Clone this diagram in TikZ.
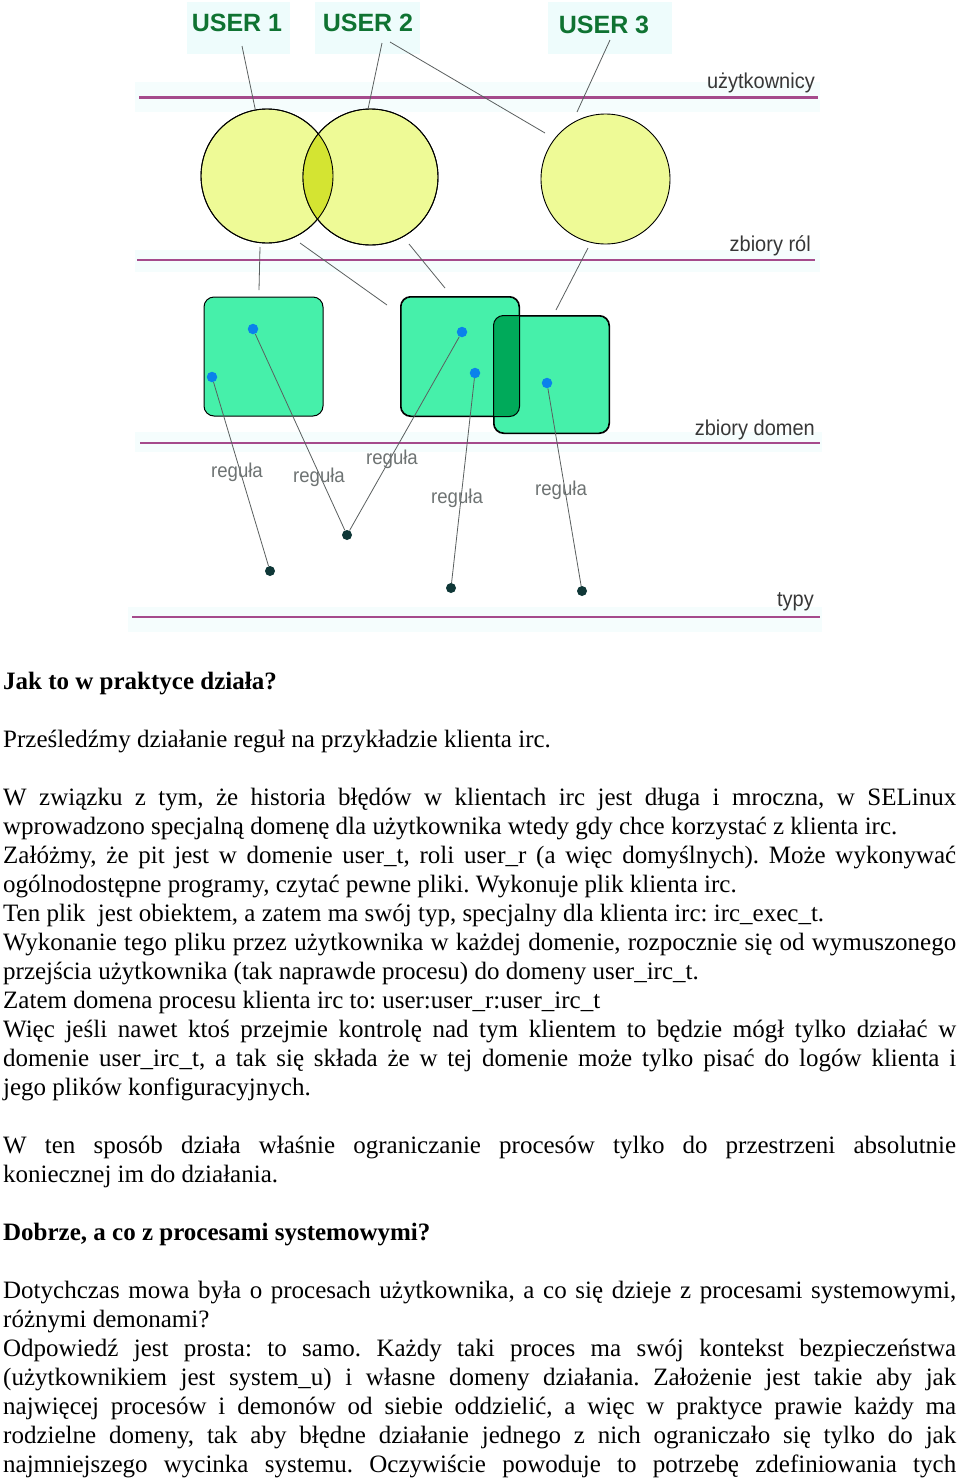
\documentclass[tikz,border=0pt]{standalone}
\usepackage{fontspec}
\setmainfont{Liberation Serif}
\newfontfamily\lblfont{Liberation Sans}
\newfontfamily\lblnarrow{Liberation Sans}[FakeStretch=0.93]
\usetikzlibrary{shapes.geometric}
\frenchspacing
\definecolor{hline}{RGB}{165,75,140}
\definecolor{circfill}{RGB}{238,250,150}
\definecolor{lensfill}{RGB}{212,228,50}
\definecolor{sqfill}{RGB}{70,240,170}
\definecolor{sqdark}{RGB}{0,170,90}
\definecolor{bdot}{RGB}{10,130,235}
\definecolor{kdot}{RGB}{15,55,55}
\definecolor{connc}{RGB}{90,95,95}
\definecolor{usergreen}{RGB}{15,115,50}
\definecolor{halo}{RGB}{238,252,252}
\definecolor{band}{RGB}{245,253,253}
\definecolor{lblgray}{RGB}{55,55,55}
\definecolor{rulegray}{RGB}{110,115,115}
\newcommand\myuserfont{\lblfont\bfseries\fontsize{25}{25}\selectfont}
\newcommand\mybodyfont{\fontsize{25}{29}\selectfont}
\newcommand\jline[1]{\makebox[953pt][s]{#1}}
\tikzset{
 hl/.style={draw=hline, line width=2.4pt},
 roleset/.style={ellipse, draw=black, line width=0.9pt, fill=circfill, inner sep=0pt},
 domset/.style={rectangle, rounded corners=10pt, draw=black, line width=1pt, fill=sqfill, inner sep=0pt},
 bdotst/.style={circle, fill=bdot, minimum size=10.5pt, inner sep=0pt},
 kdotst/.style={circle, fill=kdot, minimum size=10pt, inner sep=0pt},
 conn/.style={draw=connc, line width=0.8pt},
 userlbl/.style={font=\myuserfont, text=usergreen, inner sep=0pt},
 layerlbl/.style={font=\lblnarrow\fontsize{21.5}{21.5}\selectfont, text=lblgray, inner sep=0pt, anchor=base east},
 rulelbl/.style={font=\lblnarrow\fontsize{20}{20}\selectfont, text=rulegray, inner sep=0pt, anchor=base},
 body/.style={font=\mybodyfont, inner sep=0pt, anchor=base west},
}
\begin{document}
\begin{tikzpicture}[x=1pt,y=-1pt]
\useasboundingbox (0,0) rectangle (960,1481);
\fill[white] (0,0) rectangle (960,1481);
% faint halos
\fill[halo] (187,2) rectangle (290,54);
\fill[halo] (315,2) rectangle (420,54);
\fill[halo] (548,2) rectangle (672,54);
\fill[band] (135,82) rectangle (820,112);
\fill[band] (135,250) rectangle (820,272);
\fill[band] (135,432) rectangle (822,452);
\fill[band] (128,607) rectangle (822,632);
% layer lines
\draw[hl] (139,97.5) -- (818,97.5);
\draw[hl] (137,260) -- (815,260);
\draw[hl] (140,443) -- (820,443);
\draw[hl] (132,617) -- (820,617);
% layer labels
\node[layerlbl] (lu) at (815,88) {użytkownicy};
\node[layerlbl] (lr) at (811,251) {zbiory ról};
\node[layerlbl] (ld) at (815,435) {zbiory domen};
\node[layerlbl] (lt) at (814,606) {typy};
% users
\node[userlbl] (u1) at (237,22.5) {USER 1};
\node[userlbl] (u2) at (368,23) {USER 2};
\node[userlbl] (u3) at (604,25) {USER 3};
% role sets
\node[roleset, minimum width=132pt, minimum height=134pt] (c1) at (267,176) {};
\node[roleset, minimum width=135pt, minimum height=136pt] (c2) at (370.5,177) {};
\node[roleset, minimum width=129pt, minimum height=130pt] (c3) at (605.5,179) {};
\begin{scope}
\clip (c1.center) ellipse [x radius=66pt, y radius=67pt];
\fill[lensfill] (c2.center) ellipse [x radius=67.5pt, y radius=68pt];
\end{scope}
\draw[line width=0.9pt] (c1.center) ellipse [x radius=66pt, y radius=67pt];
\draw[line width=0.9pt] (c2.center) ellipse [x radius=67.5pt, y radius=68pt];
% domain sets
\node[domset, minimum width=119pt, minimum height=119pt] (s1) at (263.5,356.5) {};
\node[domset, minimum width=118pt, minimum height=119pt] (s2) at (460,356.5) {};
\node[domset, minimum width=115pt, minimum height=117pt] (s3) at (551.5,374.5) {};
\begin{scope}
\clip[rounded corners=10pt] (s2.south west) rectangle (s2.north east);
\fill[sqdark, rounded corners=10pt] (s3.south west) rectangle (s3.north east);
\end{scope}
\draw[line width=1pt, rounded corners=10pt] (s2.south west) rectangle (s2.north east);
\draw[line width=1pt, rounded corners=10pt] (s3.south west) rectangle (s3.north east);
% connectors users -> roles
\coordinate (p1) at (242,46);
\draw[conn] (p1) -- (c1.100);
\coordinate (p2) at (382,43);
\draw[conn] (p2) -- (c2.92);
\coordinate (p3) at (390,42);
\coordinate (p3e) at (545,133);
\draw[conn] (p3) -- (p3e);
\coordinate (p4) at (610,40);
\coordinate (p4e) at (577,112);
\draw[conn] (p4) -- (p4e);
% connectors roles -> domains
\coordinate (q1) at (260,247); \coordinate (q1e) at (259,290);
\draw[conn] (q1) -- (q1e);
\coordinate (q2) at (300,243); \coordinate (q2e) at (387,305);
\draw[conn] (q2) -- (q2e);
\coordinate (q3) at (409,244); \coordinate (q3e) at (445,288);
\draw[conn] (q3) -- (q3e);
\coordinate (q4) at (588,248); \coordinate (q4e) at (556,310);
\draw[conn] (q4) -- (q4e);
% dots
\node[bdotst] (b1) at (212,377) {};
\node[bdotst] (b2) at (253,329) {};
\node[bdotst] (b3) at (462,332) {};
\node[bdotst] (b4) at (475,373) {};
\node[bdotst] (b5) at (547,383) {};
\node[kdotst] (k1) at (270,571) {};
\node[kdotst] (k2) at (347,535) {};
\node[kdotst] (k3) at (451,588) {};
\node[kdotst] (k4) at (582,591) {};
% rules
\draw[conn] (b1) -- (k1);
\draw[conn] (b2) -- (k2);
\draw[conn] (b3) -- (k2);
\draw[conn] (b4) -- (k3);
\draw[conn] (b5) -- (k4);
\node[rulelbl] (r1) at (237,477) {reguła};
\node[rulelbl] (r2) at (319,482) {reguła};
\node[rulelbl] (r3) at (392,464) {reguła};
\node[rulelbl] (r4) at (457,503) {reguła};
\node[rulelbl] (r5) at (561,495) {reguła};
% body text
\node[body] (t0) at (3,689) {\textbf{Jak to w praktyce działa?}};
\node[body] (t2) at (3,747) {Prześledźmy działanie reguł na przykładzie klienta irc.};
\node[body] (t4) at (3,805) {\jline{W związku z tym, że historia błędów w klientach irc jest długa i mroczna, w SELinux}};
\node[body] (t5) at (3,834) {wprowadzono specjalną domenę dla użytkownika wtedy gdy chce korzystać z klienta irc.};
\node[body] (t6) at (3,863) {\jline{Załóżmy, że pit jest w domenie user\_t, roli user\_r (a więc domyślnych). Może wykonywać}};
\node[body] (t7) at (3,892) {ogólnodostępne programy, czytać pewne pliki. Wykonuje plik klienta irc.};
\node[body] (t8) at (3,921) {Ten plik~ jest obiektem, a zatem ma swój typ, specjalny dla klienta irc: irc\_exec\_t.};
\node[body] (t9) at (3,950) {\jline{Wykonanie tego pliku przez użytkownika w każdej domenie, rozpocznie się od wymuszonego}};
\node[body] (t10) at (3,979) {przejścia użytkownika (tak naprawde procesu) do domeny user\_irc\_t.};
\node[body] (t11) at (3,1008) {Zatem domena procesu klienta irc to: user:user\_r:user\_irc\_t};
\node[body] (t12) at (3,1037) {\jline{Więc jeśli nawet ktoś przejmie kontrolę nad tym klientem to będzie mógł tylko działać w}};
\node[body] (t13) at (3,1066) {\jline{domenie user\_irc\_t, a tak się składa że w tej domenie może tylko pisać do logów klienta i}};
\node[body] (t14) at (3,1095) {jego plików konfiguracyjnych.};
\node[body] (t16) at (3,1153) {\jline{W ten sposób działa właśnie ograniczanie procesów tylko do przestrzeni absolutnie}};
\node[body] (t17) at (3,1182) {koniecznej im do działania.};
\node[body] (t19) at (3,1240) {\textbf{Dobrze, a co z procesami systemowymi?}};
\node[body] (t21) at (3,1298) {\jline{Dotychczas mowa była o procesach użytkownika, a co się dzieje z procesami systemowymi,}};
\node[body] (t22) at (3,1327) {różnymi demonami?};
\node[body] (t23) at (3,1356) {\jline{Odpowiedź jest prosta: to samo. Każdy taki proces ma swój kontekst bezpieczeństwa}};
\node[body] (t24) at (3,1385) {\jline{(użytkownikiem jest system\_u) i własne domeny działania. Założenie jest takie aby jak}};
\node[body] (t25) at (3,1414) {\jline{najwięcej procesów i demonów od siebie oddzielić, a więc w praktyce prawie każdy ma}};
\node[body] (t26) at (3,1443) {\jline{rodzielne domeny, tak aby błędne działanie jednego z nich ograniczało się tylko do jak}};
\node[body] (t27) at (3,1472) {\jline{najmniejszego wycinka systemu. Oczywiście powoduje to potrzebę zdefiniowania tych}};
\end{tikzpicture}
\end{document}
